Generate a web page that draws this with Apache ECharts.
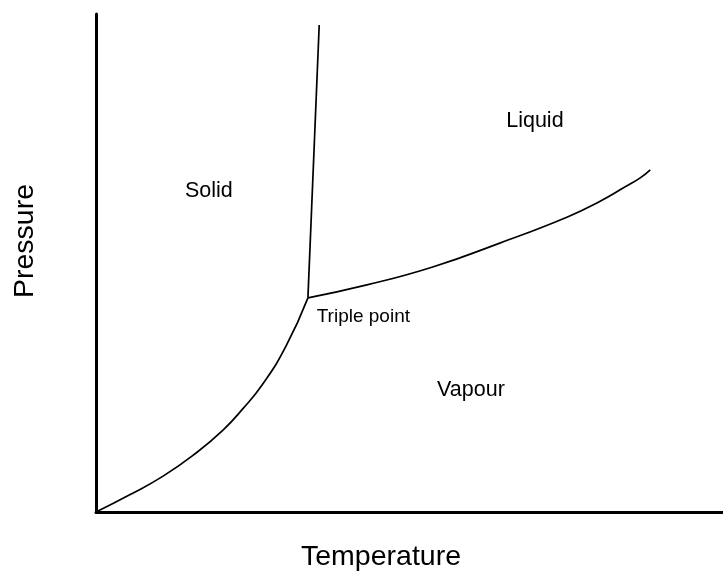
<!DOCTYPE html>
<html>
<head>
<meta charset="utf-8">
<script src="https://cdn.jsdelivr.net/npm/echarts@6/dist/echarts.min.js"></script>
<style>html,body{margin:0;padding:0;background:#fff}#c{width:723px;height:575px}</style>
</head>
<body>
<div id="c"></div>
<script>
// Phase diagram values (arbitrary units, 0-100 on both axes)
const sublimationCurve = [[0,0],[5.3,3.4],[10.7,7.2],[15.9,11.8],[20.3,16.5],[23.4,20.7],[26.6,25.7],[30.3,33.3],[33.8,43.0]];
const meltingCurve = [[33.8,43.0],[35.6,97.8]];
const vaporisationCurve = [[33.8,43.0],[43.2,45.6],[53.7,49.2],[64.4,54.0],[75.1,59.2],[80.4,62.4],[84.4,65.3],[86.8,67.1],[88.4,68.7]];
const regionLabels = ['Solid','Liquid','Vapour'];
const regionPositions = [[18.0,64.5],[70.0,78.5],[59.8,24.5]];
const triplePointLabel = 'Triple point';
const triplePointPosition = [35.2,39.2];
const xAxisTitle = 'Temperature';
const yAxisTitle = 'Pressure';

const font = 'Liberation Sans, Arial, sans-serif';
const chart = echarts.init(document.getElementById('c'));
const lineStyle = {color:'#000', width:1.7};
chart.setOption({
  animation:false,
  backgroundColor:'#fff',
  grid:{left:96, top:14, right:0, bottom:63},
  xAxis:{type:'value', min:0, max:100, axisLine:{show:true, lineStyle:{color:'#000', width:3}},
         axisTick:{show:false}, axisLabel:{show:false}, splitLine:{show:false}},
  yAxis:{type:'value', min:0, max:100, axisLine:{show:true, lineStyle:{color:'#000', width:3}},
         axisTick:{show:false}, axisLabel:{show:false}, splitLine:{show:false}},
  graphic:[
    {type:'text', left:301, top:543, style:{text:xAxisTitle, font:'28.5px '+font, fill:'#000'}},
    {type:'text', x:11, y:298, rotation:Math.PI/2, style:{text:yAxisTitle, font:'28.5px '+font, fill:'#000'}}
  ],
  series:[
    {type:'line', data:sublimationCurve, smooth:0.5, showSymbol:false, lineStyle},
    {type:'line', data:meltingCurve, showSymbol:false, lineStyle},
    {type:'line', data:vaporisationCurve, smooth:0.5, showSymbol:false, lineStyle},
    {type:'scatter', symbolSize:0, itemStyle:{opacity:1},
     data:regionLabels.map((n,i)=>({name:n, value:regionPositions[i]})),
     label:{show:true, position:'inside', formatter:'{b}', color:'#000', opacity:1, fontFamily:font, fontSize:21.5}},
    {type:'scatter', symbolSize:0, itemStyle:{opacity:1},
     data:[{name:triplePointLabel, value:triplePointPosition}],
     label:{show:true, position:'right', distance:0, formatter:'{b}', color:'#000', opacity:1, fontFamily:font, fontSize:19}}
  ]
});
</script>
</body>
</html>
